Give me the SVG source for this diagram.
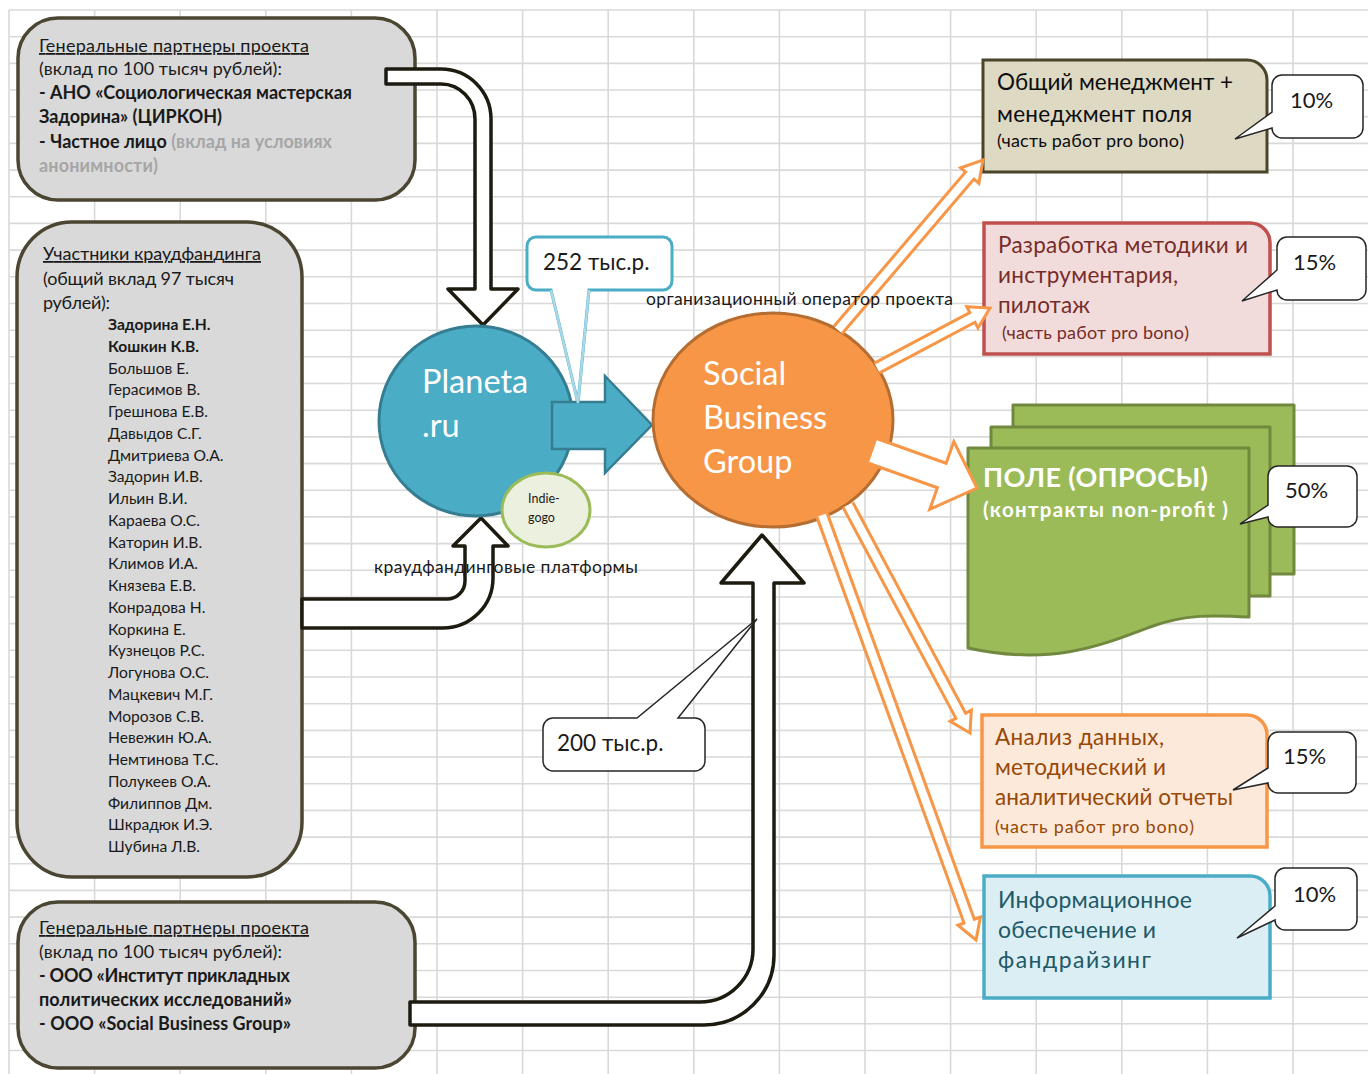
<svg xmlns="http://www.w3.org/2000/svg" width="1368" height="1074" viewBox="0 0 1368 1074">
<style>
.t{font-family:Lato,"Noto Sans",sans-serif;fill:#1a1a1a}
.b{font-weight:bold}
.gb{stroke:#4a4632;stroke-width:3.5;fill:#d9d9d9}
.blk{fill:#fff;stroke:#1d1b10;stroke-width:3.5;stroke-linejoin:round}
.oa{fill:#fff;stroke:#f79646;stroke-width:3;stroke-linejoin:miter}
.co{fill:#fff;stroke:#262626;stroke-width:1.5}
</style>
<rect width="1368" height="1074" fill="#fff"/>
<path fill="none" stroke="#d9d9d9" stroke-width="1.6" d="M9,10H1368M9,36.7H1368M9,63.4H1368M9,90H1368M9,116.7H1368M9,143.4H1368M9,170.1H1368M9,196.8H1368M9,223.4H1368M9,250.1H1368M9,276.8H1368M9,303.5H1368M9,330.2H1368M9,356.8H1368M9,383.5H1368M9,410.2H1368M9,436.9H1368M9,463.6H1368M9,490.2H1368M9,516.9H1368M9,543.6H1368M9,570.3H1368M9,597H1368M9,623.6H1368M9,650.3H1368M9,677H1368M9,703.7H1368M9,730.4H1368M9,757H1368M9,783.7H1368M9,810.4H1368M9,837.1H1368M9,863.8H1368M9,890.4H1368M9,917.1H1368M9,943.8H1368M9,970.5H1368M9,997.2H1368M9,1023.8H1368M9,1050.5H1368M9,10V1074M94.6,10V1074M180.2,10V1074M265.8,10V1074M351.4,10V1074M437,10V1074M522.6,10V1074M608.2,10V1074M693.8,10V1074M779.4,10V1074M865,10V1074M950.6,10V1074M1036.2,10V1074M1121.8,10V1074M1207.4,10V1074M1293,10V1074"/>

<g id="partners-top">
<rect class="gb" x="18" y="18" width="397" height="182" rx="40"/>
<text class="t" font-size="18" x="39" y="52" textLength="270" text-decoration="underline">Генеральные партнеры проекта</text>
<text class="t" font-size="18" x="39" y="75" textLength="243">(вклад по 100 тысяч рублей):</text>
<text class="t b" font-size="18" x="39" y="99" textLength="313">- АНО «Социологическая мастерская</text>
<text class="t b" font-size="18" x="39" y="123" textLength="183">Задорина» (ЦИРКОН)</text>
<text class="t b" font-size="18" x="39" y="148" textLength="293">- Частное лицо <tspan fill="#a6a6a6">(вклад на условиях</tspan></text>
<text class="t b" font-size="18" x="39" y="172" textLength="119" style="fill:#a6a6a6">анонимности)</text>
</g>

<g id="crowd-participants">
<rect class="gb" x="17" y="222" width="285" height="655" rx="55"/>
<text class="t" font-size="18" x="43" y="260" textLength="218" text-decoration="underline">Участники краудфандинга</text>
<text class="t" font-size="18" x="43" y="285" textLength="191">(общий вклад 97 тысяч</text>
<text class="t" font-size="18" x="43" y="309" textLength="67">рублей):</text>
<g class="t" font-size="15.6">
<text class="t b" x="108" y="330">Задорина  Е.Н.</text>
<text class="t b" x="108" y="351.8">Кошкин  К.В.</text>
<text class="t" x="108" y="373.5">Большов Е.</text>
<text class="t" x="108" y="395.3">Герасимов В.</text>
<text class="t" x="108" y="417">Грешнова  Е.В.</text>
<text class="t" x="108" y="438.8">Давыдов С.Г.</text>
<text class="t" x="108" y="460.5">Дмитриева  О.А.</text>
<text class="t" x="108" y="482.3">Задорин И.В.</text>
<text class="t" x="108" y="504">Ильин В.И.</text>
<text class="t" x="108" y="525.8">Караева О.С.</text>
<text class="t" x="108" y="547.5">Каторин И.В.</text>
<text class="t" x="108" y="569.3">Климов И.А.</text>
<text class="t" x="108" y="591">Князева  Е.В.</text>
<text class="t" x="108" y="612.8">Конрадова Н.</text>
<text class="t" x="108" y="634.5">Коркина Е.</text>
<text class="t" x="108" y="656.3">Кузнецов Р.С.</text>
<text class="t" x="108" y="678">Логунова О.С.</text>
<text class="t" x="108" y="699.8">Мацкевич  М.Г.</text>
<text class="t" x="108" y="721.5">Морозов С.В.</text>
<text class="t" x="108" y="743.3">Невежин  Ю.А.</text>
<text class="t" x="108" y="765">Немтинова  Т.С.</text>
<text class="t" x="108" y="786.8">Полукеев  О.А.</text>
<text class="t" x="108" y="808.5">Филиппов Дм.</text>
<text class="t" x="108" y="830.3">Шкрадюк И.Э.</text>
<text class="t" x="108" y="852">Шубина Л.В.</text>
</g>
</g>

<g id="partners-bottom">
<rect class="gb" x="18" y="902" width="397" height="166" rx="40"/>
<text class="t" font-size="18" x="39" y="934" textLength="270" text-decoration="underline">Генеральные партнеры проекта</text>
<text class="t" font-size="18" x="39" y="958" textLength="243">(вклад по 100 тысяч рублей):</text>
<text class="t b" font-size="18" x="39" y="982" textLength="251">- ООО «Институт прикладных</text>
<text class="t b" font-size="18" x="39" y="1006" textLength="253">политических исследований»</text>
<text class="t b" font-size="18" x="39" y="1030" textLength="252">- ООО «Social Business Group»</text>
</g>

<g id="connectors-black">
<path class="blk" d="M386,69 H441 A50,50 0 0 1 491,119 V289 H518 L483,325 L448,289 H475 V119 A34,35 0 0 0 441,84 H386 Z"/>
<path class="blk" d="M302,599 H447 A18,18 0 0 0 465,581 V546 H453 L481,518 L508,546 H493 V578 A50,50 0 0 1 443,628 H302 Z"/>
<path class="blk" d="M410,1002 H700 A53,53 0 0 0 753,949 V583 H721 L762,535 L804,583 H774 V955 A70,70 0 0 1 704,1025 H410 Z"/>
</g>

<g id="callout-252">
<path d="M536,237 H663 A9,9 0 0 1 672,246 V281 A9,9 0 0 1 663,290 H589 L578,403 L551,290 H536 A9,9 0 0 1 527,281 V246 A9,9 0 0 1 536,237 Z" fill="#fff" stroke="#4bacc6" stroke-width="3"/>
</g>

<g id="planeta">
<ellipse cx="476" cy="421" rx="97" ry="95" fill="#4bacc6" stroke="#357d91" stroke-width="3"/>
<text x="422" y="393" font-family="Lato,'Noto Sans',sans-serif" font-size="32.5" fill="#fff">Planeta</text>
<text x="422" y="437" font-family="Lato,'Noto Sans',sans-serif" font-size="32.5" fill="#fff">.ru</text>
</g>

<g id="connector-planeta">
<polygon points="552,402 605,402 605,376 652,425 605,473 605,449 552,449" fill="#4bacc6" stroke="#357d91" stroke-width="2.5" stroke-linejoin="miter"/>
</g>

<g id="indiegogo">
<ellipse cx="546" cy="510" rx="44" ry="37" fill="#ebf1de" stroke="#9bbb59" stroke-width="3"/>
<text class="t" x="528" y="503" font-size="12.5">Indie-</text>
<text class="t" x="528" y="522" font-size="12.5">gogo</text>
</g>

<g id="callout-252-tail">
<polyline points="551,290 578,403 589,290" fill="none" stroke="#a9d8e6" stroke-width="2.5"/>
<text class="t" x="543" y="270" font-size="22.5">252 тыс.р.</text>
</g>

<g id="sbg">
<ellipse cx="773" cy="420" rx="120" ry="107" fill="#f79646" stroke="#b66d31" stroke-width="3"/>
<text x="703" y="385" font-family="Lato,'Noto Sans',sans-serif" font-size="32.5" fill="#fff">Social</text>
<text x="703" y="429" font-family="Lato,'Noto Sans',sans-serif" font-size="32.5" fill="#fff">Business</text>
<text x="703" y="473" font-family="Lato,'Noto Sans',sans-serif" font-size="32.5" fill="#fff">Group</text>
</g>

<g id="box-management">
<path d="M983,60 H1247 A20,20 0 0 1 1267,80 V172 H983 Z" fill="#ddd9c3" stroke="#4a452a" stroke-width="3"/>
<text class="t" x="997" y="90" font-size="22.5" textLength="236" style="fill:#0d0d0d">Общий менеджмент +</text>
<text class="t" x="997" y="122" font-size="22.5" textLength="195" style="fill:#0d0d0d">менеджмент поля</text>
<text class="t" x="997" y="147" font-size="18" textLength="187" style="fill:#0d0d0d">(часть работ pro bono)</text>
</g>

<g id="box-methods">
<path d="M984,223 H1250 A20,20 0 0 1 1270,243 V354 H984 Z" fill="#f2dcdb" stroke="#c0504d" stroke-width="3.5"/>
<text class="t" x="998" y="253" font-size="22.5" textLength="250" style="fill:#772c2a">Разработка методики и</text>
<text class="t" x="998" y="283" font-size="22.5" textLength="180" style="fill:#772c2a">инструментария,</text>
<text class="t" x="998" y="313" font-size="22.5" textLength="92" style="fill:#772c2a">пилотаж</text>
<text class="t" x="1002" y="339" font-size="18" textLength="187" style="fill:#772c2a">(часть работ pro bono)</text>
</g>

<g id="box-field">
<rect x="1013" y="405" width="281" height="169" fill="#9bbb59" stroke="#71893f" stroke-width="3" stroke-linejoin="round"/>
<rect x="991" y="427" width="279" height="169" fill="#9bbb59" stroke="#71893f" stroke-width="3" stroke-linejoin="round"/>
<path d="M968,448 H1249 V617 C1215,615 1185,614 1150,627 C1100,646 1050,666 968,648 Z" fill="#9bbb59" stroke="#71893f" stroke-width="3" stroke-linejoin="round"/>
<text class="t b" x="983" y="487" font-size="27" textLength="225" style="fill:#fff">ПОЛЕ (ОПРОСЫ)</text>
<text class="t b" x="983" y="517" font-size="20.5" textLength="245" style="fill:#fff">(контракты  non-profit )</text>
</g>

<g id="box-analysis">
<path d="M982,715 H1247 A20,20 0 0 1 1267,735 V847 H982 Z" fill="#fde9d9" stroke="#f79646" stroke-width="3.5"/>
<text class="t" x="995" y="745" font-size="22.5" textLength="169" style="fill:#984807">Анализ данных,</text>
<text class="t" x="995" y="775" font-size="22.5" textLength="171" style="fill:#984807">методический и</text>
<text class="t" x="995" y="805" font-size="22.5" textLength="238" style="fill:#984807">аналитический отчеты</text>
<text class="t" x="995" y="833" font-size="18" textLength="199" style="fill:#984807">(часть работ pro  bono)</text>
</g>

<g id="box-info">
<path d="M984,876 H1250 A20,20 0 0 1 1270,896 V998 H984 Z" fill="#dbeef4" stroke="#4bacc6" stroke-width="3.5"/>
<text class="t" x="998" y="908" font-size="23" textLength="194" style="fill:#215967">Информационное</text>
<text class="t" x="998" y="938" font-size="23" textLength="158" style="fill:#215967">обеспечение и</text>
<text class="t" x="998" y="968" font-size="23" textLength="153" style="fill:#215967">фандрайзинг</text>
</g>

<g id="connectors-orange">
<path class="oa" transform="translate(838,330) rotate(-49.53)" d="M0,-5.5 H203 V-12 L223.4,0 L203,12 V5.5 H0"/>
<path class="oa" transform="translate(877,368) rotate(-27.96)" d="M0,-5.5 H108 V-12 L127.9,0 L108,12 V5.5 H0"/>
<path class="oa" transform="translate(873,451) rotate(19.58)" d="M0,-13 H73 V-36 L110.4,0 L73,36 V13 H0"/>
<path class="oa" transform="translate(848,505) rotate(61.85)" d="M0,-5.5 H239 V-12 L258.6,0 L239,12 V5.5 H0"/>
<path class="oa" transform="translate(822,515) rotate(70.08)" d="M0,-5.5 H432 V-12 L452,0 L432,12 V5.5 H0"/>
</g>

<g id="callouts">
<path class="co" d="M1282,75 H1353 A10,10 0 0 1 1363,85 V128 A10,10 0 0 1 1353,138 H1282 A10,10 0 0 1 1272,128 L1235,139 L1272,112 V85 A10,10 0 0 1 1282,75 Z"/>
<text class="t" x="1290" y="108" font-size="22">10%</text>
<path class="co" d="M1287,237 H1356 A10,10 0 0 1 1366,247 V290 A10,10 0 0 1 1356,300 H1287 A10,10 0 0 1 1277,290 L1242,301 L1277,270 V247 A10,10 0 0 1 1287,237 Z"/>
<text class="t" x="1293" y="270" font-size="22">15%</text>
<path class="co" d="M1278,466 H1347 A10,10 0 0 1 1357,476 V517 A10,10 0 0 1 1347,527 H1278 A10,10 0 0 1 1268,517 L1240,524 L1268,505 V476 A10,10 0 0 1 1278,466 Z"/>
<text class="t" x="1285" y="498" font-size="22">50%</text>
<path class="co" d="M1278,732 H1346 A10,10 0 0 1 1356,742 V783 A10,10 0 0 1 1346,793 H1278 A10,10 0 0 1 1268,783 L1233,790 L1268,768 V742 A10,10 0 0 1 1278,732 Z"/>
<text class="t" x="1283" y="764" font-size="22">15%</text>
<path class="co" d="M1285,868 H1347 A10,10 0 0 1 1357,878 V920 A10,10 0 0 1 1347,930 H1285 A10,10 0 0 1 1275,920 L1237,938 L1275,906 V878 A10,10 0 0 1 1285,868 Z"/>
<text class="t" x="1293" y="902" font-size="22">10%</text>
<path class="co" d="M553,718 H637 L757,619 L678,718 H695 A10,10 0 0 1 705,728 V761 A10,10 0 0 1 695,771 H553 A10,10 0 0 1 543,761 V728 A10,10 0 0 1 553,718 Z"/>
<text class="t" x="557" y="751" font-size="22.5">200 тыс.р.</text>
</g>

<g id="labels">
<text class="t" x="374" y="573" font-size="17.5" textLength="264">краудфандинговые платформы</text>
<text class="t" x="646" y="305" font-size="17.5" textLength="307">организационный оператор проекта</text>
</g>
</svg>
